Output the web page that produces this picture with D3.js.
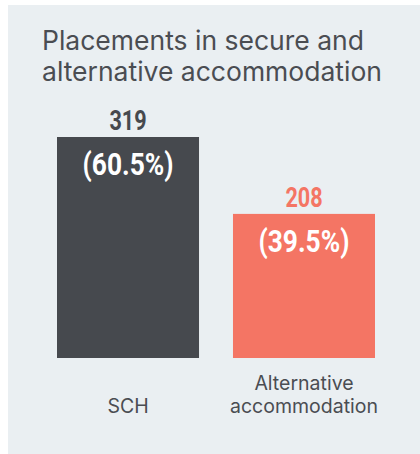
<!DOCTYPE html>
<html>
<head>
<meta charset="utf-8">
<script src="https://cdn.jsdelivr.net/npm/d3@7"></script>
<style>
  body { margin: 0; background: #ffffff; }
  svg { display: block; }
</style>
</head>
<body>
<div class="chart"></div>
<script>
var categories = ["SCH", "Alternative accommodation"];
var categoryLines = [["SCH"], ["Alternative", "accommodation"]];
var values = [319, 208];
var percents = ["(60.5%)", "(39.5%)"];
var colors = ["#46494e", "#f47564"];
var titleLines = ["Placements in secure and", "alternative accommodation"];

var svgWidth = 420;
var svgHeight = 454;

var svg = d3.select(".chart")
  .append("svg")
  .attr("width", svgWidth)
  .attr("height", svgHeight);

// panel background
svg.append("rect")
  .attr("x", 8)
  .attr("y", 5)
  .attr("width", svgWidth - 8)
  .attr("height", svgHeight - 5)
  .attr("fill", "#eaeff2");

// title
svg.append("g")
  .selectAll("text")
  .data(titleLines)
  .enter()
  .append("text")
  .attr("x", 42)
  .attr("y", function(d, i) { return 50 + i * 31; })
  .style("font-family", "Inter, Roboto, sans-serif")
  .style("font-size", "26.5px")
  .style("fill", "#4a4d52")
  .text(function(d) { return d; });

// scales
var xScale = d3.scaleBand()
  .domain(categories)
  .range([57, 375])
  .paddingInner(0.193)
  .paddingOuter(0);

var yScale = d3.scaleLinear()
  .domain([0, 319])
  .range([358, 137]);

var chart = svg.append("g");

chart.selectAll("rect.bar")
  .data(values)
  .enter()
  .append("rect")
  .attr("class", "bar")
  .attr("x", function(d, i) { return xScale(categories[i]); })
  .attr("width", xScale.bandwidth())
  .attr("y", function(d) { return yScale(d); })
  .attr("height", function(d) { return yScale(0) - yScale(d); })
  .attr("fill", function(d, i) { return colors[i]; });

// value labels above bars (condensed look via horizontal scale)
chart.selectAll("text.value")
  .data(values)
  .enter()
  .append("text")
  .attr("class", "value")
  .attr("transform", function(d, i) {
    var cx = xScale(categories[i]) + xScale.bandwidth() / 2;
    return "translate(" + cx + "," + (yScale(d) - 7) + ") scale(0.8,1)";
  })
  .attr("text-anchor", "middle")
  .style("font-family", "Roboto, sans-serif")
  .style("font-weight", "bold")
  .style("font-size", "27px")
  .style("fill", function(d, i) { return colors[i]; })
  .text(function(d) { return d; });

// percentage labels inside bars
chart.selectAll("text.pct")
  .data(values)
  .enter()
  .append("text")
  .attr("class", "pct")
  .attr("transform", function(d, i) {
    var cx = xScale(categories[i]) + xScale.bandwidth() / 2;
    return "translate(" + cx + "," + (yScale(d) + 38) + ") scale(0.85,1)";
  })
  .attr("text-anchor", "middle")
  .style("font-family", "Roboto, sans-serif")
  .style("font-weight", "bold")
  .style("font-size", "31px")
  .style("fill", "#ffffff")
  .text(function(d, i) { return percents[i]; });

// category labels, bottom-aligned
var catGroups = chart.selectAll("text.cat")
  .data(categoryLines)
  .enter()
  .append("text")
  .attr("class", "cat")
  .attr("text-anchor", "middle")
  .style("font-family", "Inter, Roboto, sans-serif")
  .style("font-size", "19.5px")
  .style("fill", "#4a4d52");

catGroups.each(function(lines, i) {
  var cx = xScale(categories[i]) + xScale.bandwidth() / 2;
  var n = lines.length;
  d3.select(this).selectAll("tspan")
    .data(lines)
    .enter()
    .append("tspan")
    .attr("x", cx)
    .attr("y", function(d, j) { return 413 - (n - 1 - j) * 23; })
    .text(function(d) { return d; });
});
</script>
</body>
</html>
